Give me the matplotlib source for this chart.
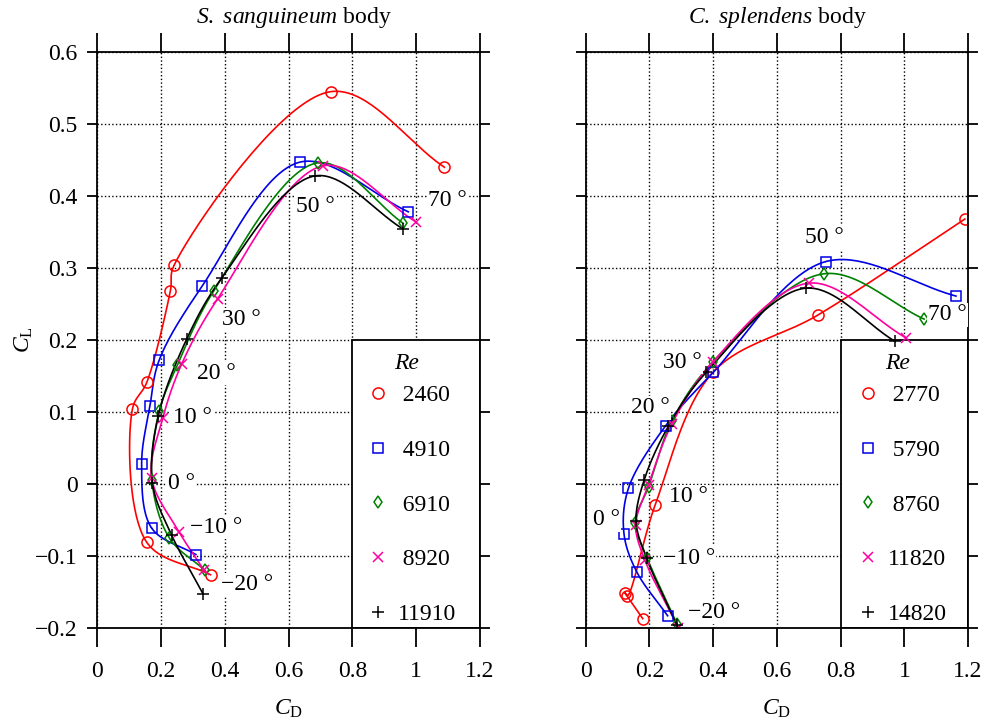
import numpy as np
import matplotlib
matplotlib.use("Agg")
import matplotlib.pyplot as plt
from matplotlib.lines import Line2D
from matplotlib.patches import Rectangle

plt.rcParams["font.family"] = "Liberation Serif"
plt.rcParams["font.size"] = 17
plt.rcParams["mathtext.fontset"] = "custom"
plt.rcParams["mathtext.rm"] = "Liberation Serif"
plt.rcParams["mathtext.it"] = "Liberation Serif:italic"

# angles of attack (deg): -20, -10, 0, 10, 20, 30, 50, 70 (red C. splendens has no 20)

# S. sanguineum body
re_left = ["2460", "4910", "6910", "8920", "11910"]
cd_left = [
    [0.355, 0.155, 0.110, 0.155, 0.229, 0.241, 0.733, 1.088],
    [0.309, 0.170, 0.139, 0.165, 0.194, 0.329, 0.635, 0.975],
    [0.338, 0.226, 0.171, 0.194, 0.251, 0.365, 0.691, 0.959],
    [0.335, 0.257, 0.170, 0.205, 0.264, 0.377, 0.709, 0.999],
    [0.332, 0.233, 0.173, 0.191, 0.280, 0.390, 0.684, 0.959],
]
cl_left = [
    [-0.126, -0.081, 0.104, 0.141, 0.268, 0.304, 0.545, 0.440],
    [-0.098, -0.061, 0.028, 0.108, 0.172, 0.275, 0.447, 0.378],
    [-0.120, -0.075, 0.006, 0.101, 0.165, 0.268, 0.446, 0.362],
    [-0.120, -0.067, 0.009, 0.091, 0.166, 0.257, 0.442, 0.364],
    [-0.153, -0.071, 0.001, 0.094, 0.201, 0.286, 0.428, 0.354],
]

# C. splendens body
re_right = ["2770", "5790", "8760", "11820", "14820"]
cd_right = [
    [0.179, 0.123, 0.131, 0.218, 0.399, 0.730, 1.190],
    [0.257, 0.160, 0.120, 0.134, 0.251, 0.400, 0.754, 1.162],
    [0.286, 0.193, 0.155, 0.197, 0.270, 0.400, 0.748, 1.062],
    [0.291, 0.186, 0.157, 0.197, 0.270, 0.400, 0.702, 1.005],
    [0.286, 0.191, 0.158, 0.183, 0.259, 0.378, 0.691, 0.971],
]
cl_right = [
    [-0.187, -0.151, -0.155, -0.029, 0.155, 0.235, 0.368],
    [-0.183, -0.122, -0.069, -0.006, 0.081, 0.155, 0.309, 0.261],
    [-0.194, -0.103, -0.054, -0.004, 0.087, 0.170, 0.292, 0.229],
    [-0.200, -0.106, -0.057, -0.001, 0.083, 0.170, 0.279, 0.203],
    [-0.196, -0.103, -0.052, 0.005, 0.080, 0.155, 0.272, 0.198],
]

angle_text = ["\u221220 \u00b0", "\u221210 \u00b0", "0 \u00b0", "10 \u00b0",
              "20 \u00b0", "30 \u00b0", "50 \u00b0", "70 \u00b0"]
# where the angle labels sit (data coords)
lab_left = [(0.468, -0.140), (0.374, -0.060), (0.264, 0.0), (0.297, 0.092),
            (0.372, 0.154), (0.453, 0.228), (0.685, 0.385), (1.099, 0.394)]
lab_right = [(0.404, -0.178), (0.323, -0.103), (0.065, -0.050), (0.321, -0.018),
             (0.202, 0.106), (0.304, 0.169), (0.748, 0.342), (1.136, 0.235)]

xticks = [0, 0.2, 0.4, 0.6, 0.8, 1.0, 1.2]
xticklabels = ["0", "0.2", "0.4", "0.6", "0.8", "1", "1.2"]
yticks = [-0.2, -0.1, 0, 0.1, 0.2, 0.3, 0.4, 0.5, 0.6]
yticklabels = ["\u22120.2", "\u22120.1", "0", "0.1", "0.2", "0.3", "0.4", "0.5", "0.6"]

colors = ["#ff0000", "#0000e6", "#008000", "#ff00a0", "black"]
markers = ["o", "s", "d", "x", "+"]
msizes = [8, 7, 6, 7, 8]


def smooth_curve(xs, ys, n=40):
    # centripetal Catmull-Rom through the points (distances in screen-like units)
    P = np.column_stack([xs, ys]).astype(float)
    P = np.vstack([2 * P[0] - P[1], P, 2 * P[-1] - P[-2]])
    scale = np.array([1.0, 2.25])
    out = []
    for i in range(1, len(P) - 2):
        p0, p1, p2, p3 = P[i - 1], P[i], P[i + 1], P[i + 2]
        d = [np.linalg.norm((q - p) * scale) ** 0.5 + 1e-6
             for p, q in ((p0, p1), (p1, p2), (p2, p3))]
        t0, t1 = 0.0, d[0]
        t2, t3 = t1 + d[1], t1 + d[1] + d[2]
        t = np.linspace(t1, t2, n)[:, None]
        a1 = (t1 - t) / (t1 - t0) * p0 + (t - t0) / (t1 - t0) * p1
        a2 = (t2 - t) / (t2 - t1) * p1 + (t - t1) / (t2 - t1) * p2
        a3 = (t3 - t) / (t3 - t2) * p2 + (t - t2) / (t3 - t2) * p3
        b1 = (t2 - t) / (t2 - t0) * a1 + (t - t0) / (t2 - t0) * a2
        b2 = (t3 - t) / (t3 - t1) * a2 + (t - t1) / (t3 - t1) * a3
        out.append((t2 - t) / (t2 - t1) * b1 + (t - t1) / (t2 - t1) * b2)
    c = np.vstack(out)
    return c[:, 0], c[:, 1]


def draw_panel(ax, cds, cls, res, labs, leg_x, re_x):
    ax.set_xlim(0, 1.2)
    ax.set_ylim(-0.2, 0.6)
    ax.set_xticks(xticks)
    ax.set_yticks(yticks)
    ax.grid(True, ls=":", color="black", lw=1.0)
    ax.tick_params(axis="x", direction="out", length=14, width=1.3, top=True, pad=10)
    ax.tick_params(axis="y", direction="out", length=7, width=1.3, right=True, pad=7)
    for s in ax.spines.values():
        s.set_linewidth(1.3)

    for cd, cl, c, m, ms in zip(cds, cls, colors, markers, msizes):
        cx, cy = smooth_curve(cd, cl)
        ax.plot(cx, cy, color=c, lw=1.2, zorder=2)
        ax.plot(cd, cl, ls="none", marker=m, ms=ms, mfc="none", mec=c, mew=1.1, zorder=2.2)

    for txt, (x, y) in zip(angle_text, labs):
        ax.text(x, y, txt, ha="center", va="center", zorder=3,
                bbox=dict(facecolor="white", edgecolor="none", pad=1.0))

    ax.add_patch(Rectangle((0.8, -0.2), 0.4, 0.4, facecolor="white",
                           edgecolor="black", lw=1.3, zorder=1.8))
    ax.text(re_x, 0.168, "Re", style="italic", ha="center", va="center", zorder=3)
    handles = [Line2D([], [], ls="none", marker=m, ms=ms, mfc="none", mec=c, mew=1.1)
               for c, m, ms in zip(colors, markers, msizes)]
    labels = [("\u2009" + r) if len(r) == 4 else r for r in res]
    leg = ax.legend(handles, labels, loc="center", bbox_to_anchor=(leg_x, -0.029),
                    bbox_transform=ax.transData, frameon=False, handlelength=1.0,
                    handletextpad=0.36, labelspacing=1.41, borderpad=0)
    leg.set_zorder(5)


fig = plt.figure(figsize=(9.97, 7.25), dpi=100)
ax1 = fig.add_axes([0.0976, 0.1338, 0.3839, 0.7945])
ax2 = fig.add_axes([0.5875, 0.1338, 0.3835, 0.7945])

draw_panel(ax1, cd_left, cl_left, re_left, lab_left, 0.985, 0.970)
draw_panel(ax2, cd_right, cl_right, re_right, lab_right, 0.9915, 0.980)

ax1.set_xticklabels(xticklabels)
ax1.set_yticklabels(yticklabels)
ax2.set_xticklabels(xticklabels)
ax2.set_yticklabels([])

fig.text(294 / 997, 1 - 17 / 725, r"$\mathit{S.\ sanguineum}$ body", ha="center", va="center")
fig.text(777 / 997, 1 - 17 / 725, r"$\mathit{C.\ splendens}$ body", ha="center", va="center")
fig.text(24 / 997, 1 - 340 / 725, r"$C_\mathrm{L}$", rotation=90, ha="center", va="center")
fig.text(289 / 997, 1 - 709 / 725, r"$C_\mathrm{D}$", ha="center", va="center")
fig.text(777 / 997, 1 - 709 / 725, r"$C_\mathrm{D}$", ha="center", va="center")

fig.savefig("out.png", dpi=100)
